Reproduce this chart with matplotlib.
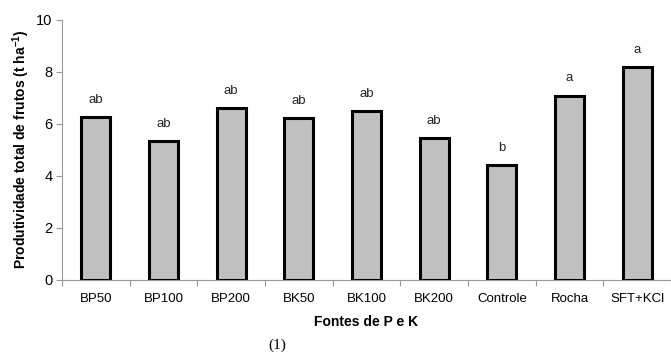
"""Produtividade total de frutos por fonte de P e K."""

import matplotlib
matplotlib.use("Agg")
import matplotlib.pyplot as plt
import numpy as np

categorias = ["BP50", "BP100", "BP200", "BK50", "BK100", "BK200", "Controle", "Rocha", "SFT+KCl"]
produtividade = [6.24, 5.31, 6.58, 6.21, 6.48, 5.45, 4.40, 7.07, 8.16]
letras = ["ab", "ab", "ab", "ab", "ab", "ab", "b", "a", "a"]

plt.rcParams["font.family"] = ["Liberation Sans", "DejaVu Sans"]

fig = plt.figure(figsize=(6.71, 3.58), dpi=100)
ax = fig.add_axes([0.0924, 0.219, 0.9076, 0.7265])

x = np.arange(len(categorias))
ax.bar(x, produtividade, width=0.43, color="#c0c0c0", edgecolor="black", linewidth=2.2, zorder=3)

for xi, v, s in zip(x, produtividade, letras):
    ax.text(xi, v + 0.55, s, ha="center", va="baseline", fontsize=9.5, color="#222222")

ax.set_xlim(-0.5, len(categorias) - 0.5)
ax.set_ylim(0, 10)
ax.set_yticks([0, 2, 4, 6, 8, 10])
ax.set_xticks(x)
ax.set_xticklabels(categorias)
ax.set_xticks(np.arange(len(categorias) + 1) - 0.5, minor=True)
ax.tick_params(axis="x", which="major", length=0, pad=10, labelsize=9.5)
ax.tick_params(axis="x", which="minor", length=4, color="#999999", width=0.8)
ax.tick_params(axis="y", length=4, color="#999999", width=0.8, labelsize=10.5, pad=3)

for side in ("top", "right"):
    ax.spines[side].set_visible(False)
for side in ("left", "bottom"):
    ax.spines[side].set_color("#999999")
    ax.spines[side].set_linewidth(0.8)

ax.set_ylabel("Produtividade total de frutos (t ha$^{\\mathregular{-1}}$)", fontsize=10, fontweight="bold", labelpad=3)
ax.set_xlabel("Fontes de P e K", fontsize=10, fontweight="bold", labelpad=7)

fig.text(0.413, 0.035, "(1)", fontsize=11, family="Liberation Serif", ha="center", va="center")

fig.savefig("out.png", dpi=100)
plt.close(fig)
